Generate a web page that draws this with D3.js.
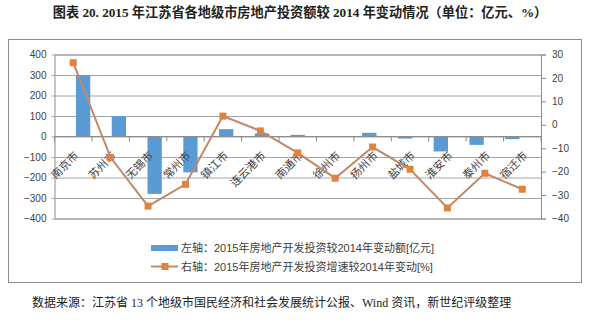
<!DOCTYPE html>
<html><head><meta charset="utf-8">
<script src="https://cdn.jsdelivr.net/npm/d3@7"></script>
<style>
html,body{margin:0;padding:0;background:#fff;}
svg{display:block;}
</style></head>
<body>
<svg id="chart" width="590" height="322"></svg>
<script>
const title = "图表 20. 2015 年江苏省各地级市房地产投资额较 2014 年变动情况（单位：亿元、%）";
const source = "数据来源：江苏省 13 个地级市国民经济和社会发展统计公报、Wind 资讯，新世纪评级整理";
const cities = ["南京市","苏州市","无锡市","常州市","镇江市","连云港市","南通市","徐州市","扬州市","盐城市","淮安市","泰州市","宿迁市"];
const amountChange = [300, 100, -280, -175, 36, 15, 8, 2, 18, -10, -73, -41, -13];
const growthChange = [26.5, -14, -34.7, -25.4, 3.7, -2.6, -12, -22.8, -9.5, -19, -35.5, -20.7, -27.5];
const leftTicks = [-400,-300,-200,-100,0,100,200,300,400];
const rightTicks = [-40,-30,-20,-10,0,10,20,30];
const legendLabels = ["左轴：2015年房地产开发投资较2014年变动额[亿元]","右轴：2015年房地产开发投资增速较2014年变动[%]"];

const svg = d3.select("#chart");
const cjk = "'Liberation Sans', 'Noto Sans CJK SC', sans-serif";

const L = 54.5, R = 541, T = 54.5, B = 218.5;
const x = d3.scaleBand().domain(cities).range([L, R]).padding(0.6);
const xb = d3.scaleBand().domain(cities).range([L, R]).padding(0);
const yL = d3.scaleLinear().domain([-400, 400]).range([B, T]);
const yR = d3.scaleLinear().domain([-40, 30]).range([B, T]);

// title
svg.append("text").attr("x", 300).attr("y", 17).attr("text-anchor", "middle")
  .attr("font-family", "'Liberation Serif', 'Noto Sans CJK SC', serif")
  .attr("font-weight", "bold").attr("font-size", 13.2).attr("fill", "#222")
  .text(title);

// frame
svg.append("rect").attr("x", 8.5).attr("y", 39.5).attr("width", 573).attr("height", 243)
  .attr("fill", "#fff").attr("stroke", "#8c8c8c").attr("stroke-width", 1);

// left axis with gridlines
const gL = svg.append("g").attr("transform", `translate(${L},0)`)
  .call(d3.axisLeft(yL).tickValues(leftTicks).tickSize(-(R - L)).tickPadding(8));
gL.select(".domain").attr("stroke", "#8c8c8c");
gL.selectAll(".tick line").attr("stroke", "#a6a6a6").attr("x1", -3);
gL.selectAll(".tick text").attr("font-family", cjk).attr("font-size", 10).attr("fill", "#404040");

// right axis
const gR = svg.append("g").attr("transform", `translate(${R},0)`)
  .call(d3.axisRight(yR).tickValues(rightTicks).tickSize(5).tickPadding(6));
gR.select(".domain").attr("stroke", "#8c8c8c");
gR.selectAll(".tick line").attr("stroke", "#8c8c8c");
gR.selectAll(".tick text").attr("font-family", cjk).attr("font-size", 10).attr("fill", "#404040");

// bars
svg.append("g").selectAll("rect").data(cities).join("rect")
  .attr("x", d => x(d))
  .attr("width", x.bandwidth())
  .attr("y", (d, i) => yL(Math.max(0, amountChange[i])))
  .attr("height", (d, i) => Math.abs(yL(amountChange[i]) - yL(0)))
  .attr("fill", "#5b9bd5");

// category axis at zero
const gX = svg.append("g").attr("transform", `translate(0,${yL(0)})`);
gX.append("line").attr("x1", L).attr("x2", R).attr("stroke", "#8c8c8c");
gX.selectAll("line.tk").data(d3.range(cities.length + 1)).join("line").attr("class", "tk")
  .attr("x1", i => L + i * xb.step()).attr("x2", i => L + i * xb.step())
  .attr("y1", 0).attr("y2", 5).attr("stroke", "#8c8c8c");
gX.selectAll("text").data(cities).join("text")
  .attr("transform", d => `translate(${xb(d) + xb.bandwidth() / 2 + 3},${17}) rotate(-45)`)
  .attr("text-anchor", "end").attr("dominant-baseline", "central")
  .attr("font-family", cjk).attr("font-size", 11).attr("fill", "#404040")
  .text(d => d);

// line
const line = d3.line()
  .x((d, i) => xb(cities[i]) + xb.bandwidth() / 2)
  .y(d => yR(d));
svg.append("path").datum(growthChange).attr("d", line)
  .attr("fill", "none").attr("stroke", "#c0896a").attr("stroke-width", 2);
svg.append("g").selectAll("rect").data(growthChange).join("rect")
  .attr("x", (d, i) => xb(cities[i]) + xb.bandwidth() / 2 - 3.5)
  .attr("y", d => yR(d) - 3.5)
  .attr("width", 7).attr("height", 7).attr("fill", "#e2823f");

// legend
const lg = svg.append("g");
lg.append("rect").attr("x", 151).attr("y", 245).attr("width", 27).attr("height", 6).attr("fill", "#5b9bd5");
lg.append("line").attr("x1", 151).attr("x2", 178).attr("y1", 266.5).attr("y2", 266.5)
  .attr("stroke", "#c0896a").attr("stroke-width", 2);
lg.append("rect").attr("x", 161.5).attr("y", 263).attr("width", 7).attr("height", 7).attr("fill", "#e2823f");
lg.selectAll("text").data(legendLabels).join("text")
  .attr("x", 181).attr("y", (d, i) => 248 + i * 19)
  .attr("dominant-baseline", "central")
  .attr("font-family", cjk).attr("font-size", 11).attr("fill", "#404040")
  .text(d => d);

// source
svg.append("text").attr("x", 32).attr("y", 303).attr("dominant-baseline", "central")
  .attr("font-family", "'Liberation Serif', 'Noto Sans CJK SC', serif")
  .attr("font-size", 12).attr("fill", "#222")
  .text(source);
</script>
</body></html>
